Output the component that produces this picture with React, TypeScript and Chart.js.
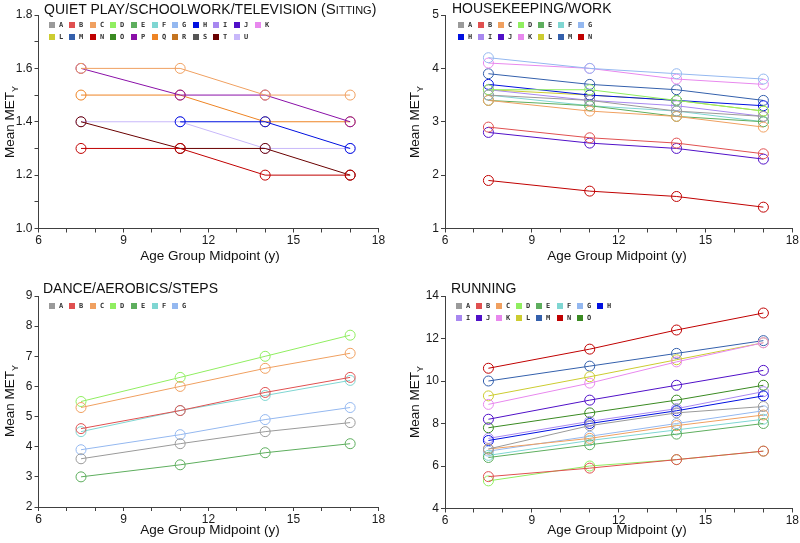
import React, { useEffect, useRef } from 'react';
import { Chart, registerables } from 'chart.js';
Chart.register(...registerables);

// ---------- data ----------
const ageMidpoints = [7.5, 11, 14, 17];
const xTicks = [6, 7, 8, 9, 10, 11, 12, 13, 14, 15, 16, 17, 18];
const xTickLabels = ['6', '', '', '9', '', '', '12', '', '', '15', '', '', '18'];

const letterColors: Record<string, string> = {
  A: '#9a9a9a', B: '#e05050', C: '#f0a060', D: '#90ee60', E: '#5eae5e', F: '#7fd6d2', G: '#94b8f0',
  H: '#0010e0', I: '#a888f0', J: '#5010c8', K: '#e888ee', L: '#cccc30', M: '#3460ac', N: '#c00000',
  O: '#3a8a22', P: '#8a10a8', Q: '#ee8424', R: '#c47420', S: '#555555', T: '#6a0000', U: '#c8b8fa',
};

// Panel 1: Quiet play / schoolwork / television (sitting)
const sittingLetters = 'ABCDEFGHIJKLMNOPQRSTU'.split('');
const sittingValues: (number | null)[][] = [
  [null, null, null, null], // A
  [null, null, null, null], // B
  [1.6, 1.6, 1.5, 1.5], // C
  [null, null, null, null], // D
  [null, null, null, null], // E
  [null, null, null, null], // F
  [null, null, null, null], // G
  [null, 1.4, 1.4, 1.3], // H
  [null, null, null, null], // I
  [null, null, null, null], // J
  [null, null, null, null], // K
  [null, null, null, null], // L
  [null, null, null, null], // M
  [1.3, 1.3, 1.2, 1.2], // N
  [null, null, null, null], // O
  [1.6, 1.5, 1.5, 1.4], // P
  [1.5, 1.5, 1.4, 1.4], // Q
  [null, null, null, null], // R
  [null, null, null, null], // S
  [1.4, 1.3, 1.3, 1.2], // T
  [1.4, 1.4, 1.3, 1.3], // U
];
const sittingYTicks = [1.0, 1.1, 1.2, 1.3, 1.4, 1.5, 1.6, 1.7, 1.8];
const sittingYLabels = ['1.0', '', '1.2', '', '1.4', '', '1.6', '', '1.8'];

// Panel 2: Housekeeping / work
const houseLetters = 'ABCDEFGHIJKLMN'.split('');
const houseValues: number[][] = [
  [3.5, 3.4, 3.2, 3.1], // A
  [2.9, 2.7, 2.6, 2.4], // B
  [3.4, 3.2, 3.1, 2.9], // C
  [3.6, 3.6, 3.4, 3.2], // D
  [3.4, 3.3, 3.1, 3.0], // E
  [3.5, 3.3, 3.2, 3.0], // F
  [4.2, 4.0, 3.9, 3.8], // G
  [3.7, 3.5, 3.4, 3.3], // H
  [3.6, 3.4, 3.3, 3.1], // I
  [2.8, 2.6, 2.5, 2.3], // J
  [4.1, 4.0, 3.8, 3.7], // K
  [3.6, 3.5, 3.4, 3.2], // L
  [3.9, 3.7, 3.6, 3.4], // M
  [1.9, 1.7, 1.6, 1.4], // N
];
const houseYTicks = [1, 2, 3, 4, 5];
const houseYLabels = ['1', '2', '3', '4', '5'];

// Panel 3: Dance / aerobics / steps
const danceLetters = 'ABCDEFG'.split('');
const danceValues: number[][] = [
  [3.6, 4.1, 4.5, 4.8], // A
  [4.6, 5.2, 5.8, 6.3], // B
  [5.3, 6.0, 6.6, 7.1], // C
  [5.5, 6.3, 7.0, 7.7], // D
  [3.0, 3.4, 3.8, 4.1], // E
  [4.5, 5.2, 5.7, 6.2], // F
  [3.9, 4.4, 4.9, 5.3], // G
];
const danceYTicks = [2, 3, 4, 5, 6, 7, 8, 9];
const danceYLabels = ['2', '3', '4', '5', '6', '7', '8', '9'];

// Panel 4: Running
const runLetters = 'ABCDEFGHIJKLMNO'.split('');
const runValues: number[][] = [
  [6.8, 7.9, 8.5, 8.8], // A
  [5.5, 5.9, 6.3, 6.7], // B
  [6.8, 7.3, 7.9, 8.4], // C
  [5.3, 6.0, 6.3, 6.7], // D
  [6.4, 7.0, 7.5, 8.0], // E
  [6.5, 7.2, 7.7, 8.2], // F
  [6.7, 7.4, 8.0, 8.6], // G
  [7.2, 8.0, 8.6, 9.3], // H
  [7.3, 8.1, 8.7, 9.5], // I
  [8.2, 9.1, 9.8, 10.5], // J
  [8.9, 9.9, 10.9, 11.8], // K
  [9.3, 10.2, 11.0, 11.8], // L
  [10.0, 10.7, 11.3, 11.9], // M
  [10.6, 11.5, 12.4, 13.2], // N
  [7.8, 8.5, 9.1, 9.8], // O
];
const runYTicks = [4, 6, 8, 10, 12, 14];
const runYLabels = ['4', '6', '8', '10', '12', '14'];

// ---------- legend plugin ----------
const boxLegend = {
  id: 'boxLegend',
  afterDraw(chart: any, _args: any, opts: any) {
    const ctx = chart.ctx;
    const { left, top } = chart.chartArea;
    ctx.save();
    ctx.font = 'bold 7px "DejaVu Sans Mono"';
    ctx.textBaseline = 'middle';
    ctx.textAlign = 'left';
    chart.data.datasets.forEach((ds: any, i: number) => {
      const row = Math.floor(i / opts.perRow);
      const col = i % opts.perRow;
      const x = left + opts.x + col * opts.dx;
      const y = top + opts.y + row * opts.dy;
      ctx.fillStyle = ds.borderColor;
      ctx.fillRect(Math.round(x), Math.round(y - 3), 6, 6);
      ctx.fillStyle = '#333';
      ctx.fillText(ds.label, Math.round(x + 10), y + 0.5);
    });
    ctx.restore();
  },
};

type PanelProps = {
  left: number; top: number; width: number; height: number;
  area: { left: number; right: number; top: number; bottom: number };
  letters: string[]; values: (number | null)[][];
  yTicks: number[]; yLabels: string[];
  legend: { x: number; y: number; perRow: number; dx: number; dy: number };
};

function Panel(p: PanelProps) {
  const ref = useRef<HTMLCanvasElement>(null);
  useEffect(() => {
    if (!ref.current) return;
    const font = { family: '"Liberation Sans", Arial, sans-serif', size: 12 };
    const axisColor = '#404040';
    const chart = new Chart(ref.current, {
      type: 'line',
      data: {
        datasets: p.letters.map((L, i) => ({
          label: L,
          data: ageMidpoints.map((x, j) => ({ x, y: p.values[i][j] })),
          borderColor: letterColors[L],
          backgroundColor: 'rgba(0,0,0,0)',
          pointBackgroundColor: 'rgba(0,0,0,0)',
          pointBorderColor: letterColors[L],
          borderWidth: 1,
          pointBorderWidth: 1,
          pointRadius: 5,
          tension: 0,
          spanGaps: false,
        })),
      },
      options: {
        animation: false,
        responsive: false,
        maintainAspectRatio: false,
        layout: {
          autoPadding: false,
          padding: { left: 0, top: p.area.top, right: p.width - p.area.right, bottom: 0 },
        },
        scales: {
          x: {
            type: 'linear',
            min: 6,
            max: 18,
            afterFit: (s: any) => { s.height = p.height - p.area.bottom; },
            afterBuildTicks: (s: any) => { s.ticks = xTicks.map((v) => ({ value: v })); },
            ticks: {
              autoSkip: false, maxRotation: 0, minRotation: 0, padding: 1,
              font, color: '#1a1a1a',
              callback: (_v: any, i: number) => xTickLabels[i],
            },
            grid: { drawOnChartArea: false, drawTicks: true, tickLength: 4, tickColor: axisColor, color: axisColor },
            border: { display: true, color: axisColor, width: 1 },
          },
          y: {
            type: 'linear',
            min: p.yTicks[0],
            max: p.yTicks[p.yTicks.length - 1],
            afterFit: (s: any) => { s.width = p.area.left; },
            afterBuildTicks: (s: any) => { s.ticks = p.yTicks.map((v) => ({ value: v })); },
            ticks: {
              autoSkip: false, padding: 2, font, color: '#1a1a1a',
              callback: (_v: any, i: number) => p.yLabels[i],
            },
            grid: { drawOnChartArea: false, drawTicks: true, tickLength: 4, tickColor: axisColor, color: axisColor },
            border: { display: true, color: axisColor, width: 1 },
          },
        },
        plugins: {
          legend: { display: false },
          tooltip: { enabled: false },
          boxLegend: p.legend,
        } as any,
      },
      plugins: [boxLegend],
    } as any);
    return () => chart.destroy();
  }, []);
  return (
    <canvas
      ref={ref}
      width={p.width}
      height={p.height}
      style={{ position: 'absolute', left: p.left, top: p.top, width: p.width, height: p.height }}
    />
  );
}

const txt: React.CSSProperties = {
  position: 'absolute',
  fontFamily: '"Liberation Sans", Arial, sans-serif',
  color: '#111',
  whiteSpace: 'nowrap',
  lineHeight: 1,
};

function YTitle({ cx, cy }: { cx: number; cy: number }) {
  return (
    <div style={{ ...txt, left: cx, top: cy, fontSize: 13.5, transform: 'translate(-50%, -50%) rotate(-90deg)' }}>
      Mean MET<sub style={{ fontSize: 9, verticalAlign: 'sub', lineHeight: 0 }}>Y</sub>
    </div>
  );
}

function XTitle({ cx, cy }: { cx: number; cy: number }) {
  return (
    <div style={{ ...txt, left: cx, top: cy, fontSize: 13.5, transform: 'translate(-50%, -50%)' }}>
      Age Group Midpoint (y)
    </div>
  );
}

export default function App() {
  return (
    <div style={{ position: 'absolute', left: 0, top: 0, width: 800, height: 543, background: '#fff', overflow: 'hidden' }}>
      <Panel left={0} top={0} width={400} height={271}
        area={{ left: 38.5, right: 378.5, top: 15, bottom: 228.5 }}
        letters={sittingLetters} values={sittingValues}
        yTicks={sittingYTicks} yLabels={sittingYLabels}
        legend={{ x: 10, y: 10, perRow: 11, dx: 20.6, dy: 11.7 }} />
      <Panel left={400} top={0} width={400} height={271}
        area={{ left: 45, right: 395, top: 15, bottom: 228.5 }}
        letters={houseLetters} values={houseValues}
        yTicks={houseYTicks} yLabels={houseYLabels}
        legend={{ x: 13, y: 10, perRow: 7, dx: 20, dy: 11.7 }} />
      <Panel left={0} top={271} width={400} height={272}
        area={{ left: 38.5, right: 378.5, top: 25, bottom: 236 }}
        letters={danceLetters} values={danceValues}
        yTicks={danceYTicks} yLabels={danceYLabels}
        legend={{ x: 10, y: 10, perRow: 7, dx: 20.6, dy: 11.7 }} />
      <Panel left={400} top={271} width={400} height={272}
        area={{ left: 45, right: 395, top: 25, bottom: 237.5 }}
        letters={runLetters} values={runValues}
        yTicks={runYTicks} yLabels={runYLabels}
        legend={{ x: 11, y: 10, perRow: 8, dx: 20.1, dy: 11.7 }} />

      <div style={{ ...txt, left: 44, top: 1, fontSize: 14 }}>
        QUIET PLAY/SCHOOLWORK/TELEVISION (<span style={{ fontVariant: 'small-caps', fontSize: 15 }}>Sitting</span>)
      </div>
      <div style={{ ...txt, left: 452, top: 1, fontSize: 14 }}>HOUSEKEEPING/WORK</div>
      <div style={{ ...txt, left: 43, top: 281, fontSize: 14 }}>DANCE/AEROBICS/STEPS</div>
      <div style={{ ...txt, left: 451, top: 281, fontSize: 14 }}>RUNNING</div>

      <YTitle cx={10} cy={122} />
      <YTitle cx={415} cy={122} />
      <YTitle cx={10} cy={401} />
      <YTitle cx={415} cy={402} />

      <XTitle cx={210} cy={256} />
      <XTitle cx={617} cy={256} />
      <XTitle cx={210} cy={530} />
      <XTitle cx={617} cy={530} />
    </div>
  );
}
